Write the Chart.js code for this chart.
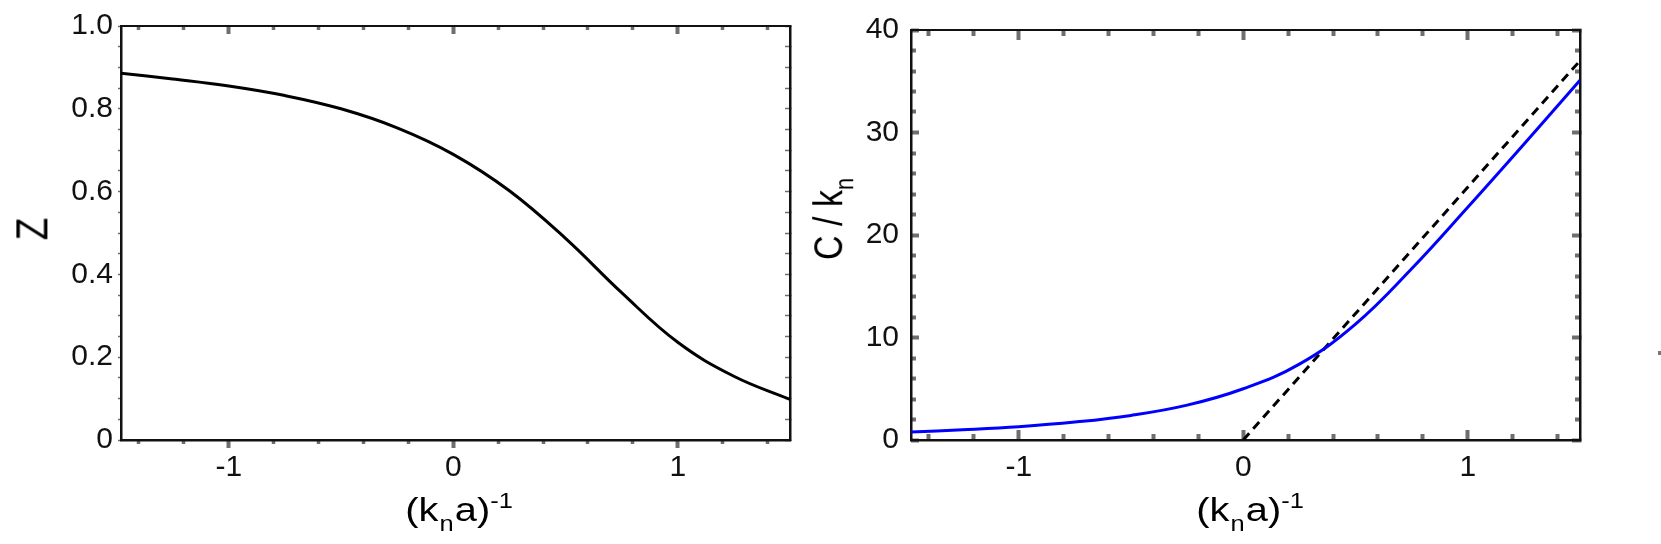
<!DOCTYPE html>
<html>
<head>
<meta charset="utf-8">
<script src="https://cdn.jsdelivr.net/npm/chart.js@4.4.1/dist/chart.umd.min.js"></script>
<style>
  body { margin: 0; width: 1661px; height: 544px; background: #fff; overflow: hidden;
         font-family: "Liberation Sans", Arial, sans-serif; position: relative; }
  canvas { position: absolute; top: 0; }
  #zChart { left: 0; }
  #cChart { left: 830px; }
  .xtitle { position: absolute; top: 492px; font-size: 34px; line-height: 1; color: #000;
            transform: translateX(-50%) scaleX(1.17); white-space: nowrap; }
  .xtitle sub, .xtitle sup { font-size: 0.64em; position: relative; vertical-align: baseline; line-height: 0; }
  .xtitle sub { top: 0.45em; margin: 0 1px; }
  .xtitle sup { top: -0.62em; }
  .ytitle { position: absolute; line-height: 1; color: #000; white-space: nowrap;
            transform: translate(-50%, -50%) scaleX(1.2) rotate(-90deg); }
  .ytitle sub { font-size: 0.64em; position: relative; vertical-align: baseline; top: 0.4em; line-height: 0; }
  .stray { position: absolute; left: 1658px; top: 351px; width: 3px; height: 4px; background: #777; }
</style>
</head>
<body>
<canvas id="zChart" width="830" height="544"></canvas>
<canvas id="cChart" width="831" height="544"></canvas>
<div class="ytitle" style="left:32px; top:229px; font-size:37px;">Z</div>
<div class="ytitle" style="left:828px; top:219px; font-size:34px;">C / k<sub>n</sub></div>
<div class="xtitle" style="left:459px;">(k<sub>n</sub>a)<sup>-1</sup></div>
<div class="xtitle" style="left:1250px;">(k<sub>n</sub>a)<sup>-1</sup></div>
<div class="stray"></div>
<script>
// x range shared by both panels
const xMin = -1.48, xMax = 1.5;
const xMajor = [-1, 0, 1];
const xMinor = [-1.4, -1.2, -0.8, -0.6, -0.4, -0.2, 0.2, 0.4, 0.6, 0.8, 1.2, 1.4];

// left panel: Z
const zX = [-1.48, -1.25, -1.0, -0.75, -0.5, -0.25, 0, 0.25, 0.5, 0.75, 1.0, 1.25, 1.5];
const zY = [0.886, 0.872, 0.855, 0.832, 0.800, 0.754, 0.69, 0.602, 0.487, 0.356, 0.236, 0.154, 0.098];
const zTicks = [0, 0.2, 0.4, 0.6, 0.8, 1.0];
const zMinor = [0, 0.05, 0.1, 0.15, 0.2, 0.25, 0.3, 0.35, 0.4, 0.45, 0.5, 0.55, 0.6, 0.65, 0.7, 0.75, 0.8, 0.85, 0.9, 0.95, 1.0];

// right panel: C / k_n
const cX = [-1.48, -1.25, -1.0, -0.75, -0.5, -0.25, 0, 0.25, 0.5, 0.75, 1.0, 1.25, 1.5];
const cY = [0.78, 1.0, 1.3, 1.75, 2.4, 3.4, 5.0, 7.4, 11.3, 16.7, 22.7, 28.85, 35.1];
const dashX = [0, 1.5];
const dashY = [0, 37.0];
const cTicks = [0, 10, 20, 30, 40];
const cMinor = [2, 4, 6, 8, 12, 14, 16, 18, 22, 24, 26, 28, 32, 34, 36, 38];

const FONT = 'Liberation Sans';
const GRAY = '#6e6e6e';
const INK = '#111';

const pts = (xs, ys) => xs.map((x, i) => ({ x: x, y: ys[i] }));
const fixTicks = vals => s => { s.ticks = vals.map(v => ({ value: v })); };
const zeroSize = s => { if (s.isHorizontal()) s.height = 0; else s.width = 0; };

// axis that only draws tick marks (negative length = pointing into the plot)
function markAxis(pos, min, max, vals, len, wid, border) {
    return {
        type: 'linear', position: pos, min: min, max: max, weight: 0,
        afterBuildTicks: fixTicks(vals),
        afterFit: zeroSize,
        ticks: { display: false },
        grid: { drawOnChartArea: false, drawTicks: true, tickLength: len, tickWidth: wid, tickColor: GRAY },
        border: { display: !!border, color: INK, width: border || 1 }
    };
}

// axis with the numbers and the black spine
function labelAxis(pos, min, max, vals, fmt, size, pad) {
    return {
        type: 'linear', position: pos, min: min, max: max, weight: 1,
        afterBuildTicks: fixTicks(vals),
        afterFit: s => { if (s.isHorizontal()) s.height = size; else s.width = size; },
        ticks: { callback: fmt, font: { family: FONT, size: 30 }, color: INK, padding: pad,
                 maxRotation: 0, autoSkip: false },
        grid: { drawOnChartArea: false, drawTicks: false },
        border: { display: true, color: INK, width: 2.5 }
    };
}

const baseOpts = (padRight, scales) => ({
    responsive: false,
    animation: false,
    layout: { padding: { top: 15, right: padRight, left: 0, bottom: 0 } },
    plugins: { legend: { display: false }, tooltip: { enabled: false } },
    elements: { point: { radius: 0 }, line: { tension: 0.4 } },
    scales: scales
});

// Z panel
new Chart(document.getElementById('zChart').getContext('2d'), {
    type: 'line',
    data: {
        datasets: [{
            data: pts(zX, zY),
            borderColor: '#000', borderWidth: 3,
            xAxisID: 'x', yAxisID: 'y'
        }]
    },
    options: baseOpts(40, {
        x: labelAxis('bottom', xMin, xMax, xMajor, v => String(v), 104, 10),
        xMaj: markAxis('bottom', xMin, xMax, xMajor, 8, 4),
        xMin: markAxis('bottom', xMin, xMax, xMinor, 4, 3.5),
        xtMaj: markAxis('top', xMin, xMax, xMajor, -8, 4, 2),
        xtMin: markAxis('top', xMin, xMax, xMinor, -4, 3.5),
        y: labelAxis('left', 0, 1, zTicks, v => v === 0 ? '0' : v.toFixed(1), 121, 8),
        yMark: markAxis('left', 0, 1, zMinor, 3, 1.5),
        yrMark: markAxis('right', 0, 1, zMinor, -5, 1.5, 2.5)
    })
});

// C / k_n panel
new Chart(document.getElementById('cChart').getContext('2d'), {
    type: 'line',
    data: {
        datasets: [{
            data: pts(cX, cY),
            borderColor: '#0000ff', borderWidth: 3,
            xAxisID: 'x', yAxisID: 'y'
        }, {
            data: pts(dashX, dashY),
            borderColor: '#000', borderWidth: 3, borderDash: [9, 6], tension: 0,
            xAxisID: 'x', yAxisID: 'y'
        }]
    },
    options: baseOpts(81, {
        x: labelAxis('bottom', xMin, xMax, xMajor, v => String(v), 104, 10),
        xMaj: markAxis('bottom', xMin, xMax, xMajor, -10, 4),
        xMin: markAxis('bottom', xMin, xMax, xMinor, -6, 4),
        xtMaj: markAxis('top', xMin, xMax, xMajor, -10, 4, 2),
        xtMin: markAxis('top', xMin, xMax, xMinor, -6, 4),
        y: labelAxis('left', 0, 40, cTicks, v => String(v), 81, 12),
        yMaj: markAxis('left', 0, 40, cTicks, -8, 4),
        yMin: markAxis('left', 0, 40, cMinor, -5, 4),
        yrMaj: markAxis('right', 0, 40, cTicks, -8, 4, 2.5),
        yrMin: markAxis('right', 0, 40, cMinor, -5, 4)
    })
});
</script>
</body>
</html>
